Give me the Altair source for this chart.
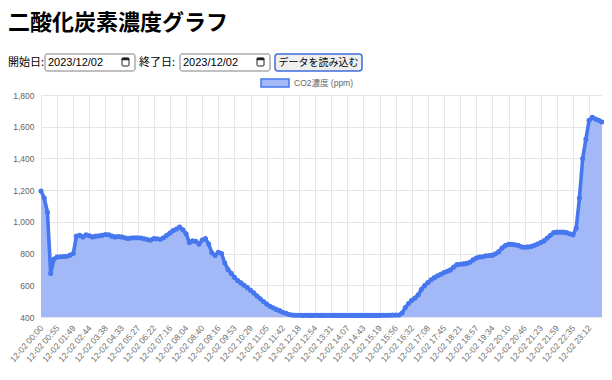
import altair as alt
import pandas as pd

# ---- data -------------------------------------------------------------
tick_labels = [
    "12-02 00:00", "12-02 00:55", "12-02 01:49", "12-02 02:44", "12-02 03:38",
    "12-02 04:33", "12-02 05:27", "12-02 06:22", "12-02 07:16", "12-02 08:04",
    "12-02 08:40", "12-02 09:16", "12-02 09:53", "12-02 10:29", "12-02 11:05",
    "12-02 11:42", "12-02 12:18", "12-02 12:54", "12-02 13:31", "12-02 14:07",
    "12-02 14:43", "12-02 15:19", "12-02 15:56", "12-02 16:32", "12-02 17:08",
    "12-02 17:45", "12-02 18:21", "12-02 18:57", "12-02 19:34", "12-02 20:10",
    "12-02 20:46", "12-02 21:23", "12-02 21:59", "12-02 22:35", "12-02 23:12",
]
label_step = 5

co2_values = [
    1195, 1150, 1060, 675, 765, 778, 780, 782, 783, 790,
    800, 910, 915, 905, 918, 912, 905, 910, 912, 915,
    920, 918, 910, 905, 908, 905, 900, 895, 898, 900,
    900, 898, 893, 888, 885, 895, 893, 890, 900, 915,
    930, 945, 955, 968, 950, 925, 870, 880, 878, 860,
    885, 895, 860, 805, 788, 808, 800, 740, 700, 675,
    650, 630, 615, 600, 585, 568, 552, 532, 515, 498,
    482, 468, 458, 448, 440, 430, 423, 416, 412, 411,
    411, 410, 411, 410, 410, 411, 410, 410, 410, 411,
    410, 410, 410, 410, 410, 410, 410, 410, 410, 410,
    410, 410, 410, 410, 410, 410, 411, 411, 411, 412,
    412, 413, 425, 460, 485, 505, 520, 540, 575, 598,
    618, 635, 648, 660, 670, 680, 688, 697, 715, 730,
    733, 735, 738, 745, 760, 772, 778, 780, 786, 788,
    790, 798, 812, 835, 850, 858, 858, 855, 852, 843,
    840, 842, 845, 852, 860, 870, 880, 898, 915, 932,
    935, 935, 935, 932, 925, 918, 960, 1150, 1400, 1520,
    1640, 1660, 1648, 1640, 1630,
]
y_ticks = [400, 600, 800, 1000, 1200, 1400, 1600, 1800]

page_title = "二酸化炭素濃度グラフ"
start_label = "開始日:"
end_label = "終了日:"
date_text = "2023/12/02"
button_text = "データを読み込む"
legend_text = "CO2濃度 (ppm)"

# ---- style ------------------------------------------------------------
LINE = "#4677ee"
FILL = "#a3b9f7"
GRID = "#e6e6e6"
FONT = "Liberation Sans, Noto Sans CJK JP, sans-serif"
CJK = "Noto Sans CJK JP"
W, H = 561, 222

df = pd.DataFrame({
    "idx": list(range(len(co2_values))),
    "co2": co2_values,
    "base": [400] * len(co2_values),
})

label_arr = "[" + ",".join("'" + s + "'" for s in tick_labels) + "]"
x_vals = [i * label_step for i in range(len(tick_labels))]

xscale = alt.Scale(domain=[0, len(co2_values) - 1], nice=False, zero=False)
yscale = alt.Scale(domain=[400, 1800], nice=False, zero=False)

xaxis = alt.Axis(
    values=x_vals, labelExpr=label_arr + "[round(datum.value/" + str(label_step) + ")]",
    labelAngle=311, labelAlign="right", labelBaseline="middle", labelPadding=9,
    labelOverlap=False, labelFlush=False, labelBound=False,
    labelFont=FONT, labelFontSize=8.5, labelColor="#707070",
    grid=True, gridColor=GRID, domainColor=GRID, ticks=False, title=None,
)
yaxis = alt.Axis(
    values=y_ticks, format=",d", labelPadding=7, labelFont=FONT,
    labelOverlap=False, labelFlush=False, labelBound=False,
    labelFontSize=8.5, labelColor="#666666", grid=True, gridColor=GRID,
    domainColor=GRID, ticks=False, title=None,
)

area = alt.Chart(df).mark_area(color=FILL, opacity=1).encode(
    x=alt.X("idx:Q", scale=xscale, axis=xaxis),
    y=alt.Y("co2:Q", scale=yscale, axis=yaxis),
    y2="base:Q",
)
line = alt.Chart(df).mark_line(color=LINE, strokeWidth=3.6).encode(
    x=alt.X("idx:Q", scale=xscale, axis=xaxis),
    y=alt.Y("co2:Q", scale=yscale, axis=yaxis))
pts = alt.Chart(df).mark_circle(color=LINE, size=26, opacity=1).encode(
    x=alt.X("idx:Q", scale=xscale, axis=xaxis),
    y=alt.Y("co2:Q", scale=yscale, axis=yaxis))

one = pd.DataFrame({"a": [0]})


def txt(s, x, y, size, color="#000000", font=FONT, weight="normal", align="left"):
    return alt.Chart(one).mark_text(
        text=s, font=font, fontSize=size, color=color, fontWeight=weight,
        align=align, baseline="middle",
    ).encode(x=alt.value(x), y=alt.value(y))


def box(x1, x2, y1, y2, fill, stroke, sw=1.0, r=0):
    return alt.Chart(one).mark_rect(
        fill=fill, stroke=stroke, strokeWidth=sw, cornerRadius=r,
    ).encode(x=alt.value(x1), x2=alt.value(x2), y=alt.value(y1), y2=alt.value(y2))


def cal_icon(x):
    return [
        box(x, x + 7, -37, -29, "#ffffff", "#222222", 1.0, 1),
        box(x, x + 7, -37, -35, "#222222", "#222222", 0.5),
    ]


row_y = -32.5
deco = [
    txt(page_title, -33, -72, 22, "#000000", CJK, "bold"),
    txt(start_label, -33, row_y, 11, "#000000", CJK),
    box(4, 94, -41, -24, "#ffffff", "#808080", 1, 2),
    txt(date_text, 7, row_y, 11),
    *cal_icon(81),
    txt(end_label, 98, row_y, 11, "#000000", CJK),
    box(139, 229, -41, -24, "#ffffff", "#808080", 1, 2),
    txt(date_text, 142, row_y, 11),
    *cal_icon(216),
    box(234, 321, -41, -24, "#efefef", "#3f6fd8", 1.5, 3),
    txt(button_text, 277.5, row_y, 10, "#000000", CJK, align="center"),
    box(220, 248, -16, -8, FILL, LINE, 1.5),
    txt(legend_text, 253, -12, 8.5, "#666666", FONT),
]

chart = alt.layer(area, line, pts, *deco).properties(
    width=W, height=H,
    autosize=alt.AutoSizeParams(type="none"),
    padding={"left": 33, "top": 87, "right": 2, "bottom": 50},
).configure_view(stroke=None).configure_axis(
    labelOverlap=False, labelFlush=False, labelBound=False
)

chart.save("out.html", embed_options={"renderer": "svg", "actions": False})
